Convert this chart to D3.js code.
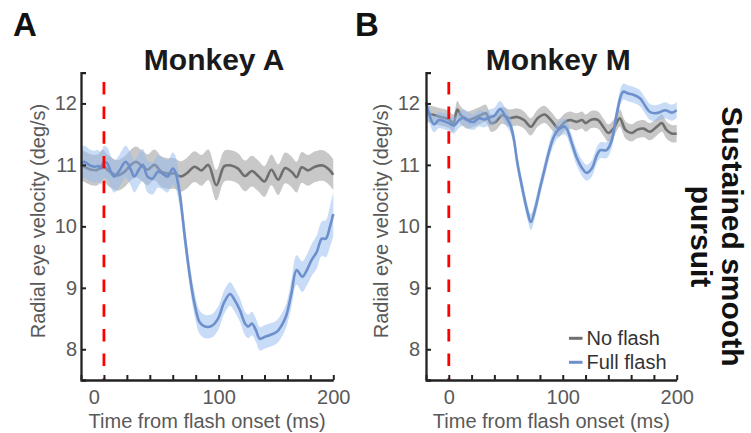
<!DOCTYPE html>
<html>
<head>
<meta charset="utf-8">
<script src="https://cdn.jsdelivr.net/npm/d3@7"></script>
<style>
  body { margin: 0; background: #fff; }
  svg { display: block; font-family: "Liberation Sans", Arial, sans-serif; }
</style>
</head>
<body>
<svg id="chart" width="751" height="433"></svg>
<script>
// ---- data ----
const xDomain = [-20, 200];
const yDomain = [7.5, 12.5];
const xTicks = [-20, 0, 20, 40, 60, 80, 100, 120, 140, 160, 180, 200];
const xTickLabels = [0, 100, 200];
const yTicks = [8, 9, 10, 11, 12];
const onsetTime = 0;
const onsetTop = 12.35;

// Monkey A, no flash
const tNoA = [-20, -17, -11, -5.5, -1, 3, 7.5, 12, 18, 23.5, 28, 34, 38, 44, 50, 55.5, 61.5, 67, 72, 79, 85, 91, 98, 105, 111, 117, 123, 129, 134.5, 140, 146, 152, 158, 164, 168, 172.5, 178, 184, 191, 196, 200];
const noFlashA = [11.00, 10.97, 10.92, 10.92, 11.00, 10.92, 10.86, 10.83, 10.89, 11.00, 11.05, 10.97, 10.92, 11.00, 10.89, 10.86, 10.86, 10.81, 10.86, 10.97, 10.91, 11.00, 10.67, 10.98, 10.99, 10.94, 10.82, 10.90, 10.82, 10.73, 10.92, 10.76, 10.95, 10.88, 10.80, 10.96, 10.91, 10.97, 10.99, 10.93, 10.84];
const semNoA = 0.25;

// Monkey A, full flash
const tFullA = [-20, -17, -13, -8, -5, -2.5, 0, 3, 6, 9, 13, 19, 23.5, 26.5, 31, 34, 38, 42.5, 47, 51, 55.5, 60, 62, 66, 70.5, 75, 79, 83.5, 88, 94, 99.5, 105, 110, 114, 118.5, 123, 126, 129, 132.5, 136, 140, 146, 150.5, 155, 159, 163.5, 168, 173, 177, 181, 185.5, 190, 193.5, 197, 200];
const fullFlashA = [11.02, 11.05, 11.00, 10.97, 10.98, 10.94, 11.05, 11.02, 10.89, 10.81, 10.89, 11.05, 10.92, 10.81, 10.94, 11.00, 10.81, 10.78, 10.89, 10.86, 10.81, 10.94, 10.90, 10.54, 9.83, 9.18, 8.74, 8.44, 8.37, 8.38, 8.50, 8.77, 8.90, 8.80, 8.64, 8.42, 8.37, 8.42, 8.31, 8.17, 8.20, 8.24, 8.28, 8.39, 8.55, 8.91, 9.29, 9.18, 9.29, 9.45, 9.58, 9.80, 9.80, 9.99, 10.20];
const semFullA = [0.26, 0.26, 0.26, 0.26, 0.26, 0.26, 0.26, 0.26, 0.26, 0.26, 0.26, 0.26, 0.26, 0.26, 0.26, 0.26, 0.26, 0.26, 0.26, 0.26, 0.26, 0.26, 0.26, 0.22, 0.20, 0.19, 0.19, 0.19, 0.19, 0.19, 0.19, 0.19, 0.19, 0.19, 0.19, 0.19, 0.19, 0.19, 0.19, 0.19, 0.19, 0.19, 0.19, 0.19, 0.19, 0.22, 0.24, 0.25, 0.25, 0.26, 0.27, 0.28, 0.30, 0.33, 0.36];

// Monkey M, no flash
const tNoM = [-20, -13, -7, 0, 4, 7.5, 10.5, 16, 22, 28, 32.5, 37, 41, 47, 53, 60, 66, 72, 78, 84, 90, 96, 102, 106.5, 112, 117, 120, 125.5, 131, 135.5, 140, 144.5, 150, 155, 160.5, 165, 171, 176.5, 182.5, 187, 191, 195.5, 200];
const noFlashM = [11.84, 11.81, 11.78, 11.74, 11.68, 11.90, 11.81, 11.73, 11.76, 11.81, 11.84, 11.68, 11.70, 11.81, 11.76, 11.78, 11.73, 11.62, 11.76, 11.82, 11.72, 11.60, 11.70, 11.73, 11.70, 11.73, 11.68, 11.74, 11.73, 11.62, 11.52, 11.59, 11.76, 11.57, 11.52, 11.57, 11.59, 11.54, 11.62, 11.68, 11.57, 11.51, 11.51];
const semNoM = 0.14;

// Monkey M, full flash
const tFullM = [-20, -17, -13, -8.5, -4, 0, 4.5, 9, 13.5, 18, 22, 26.5, 31, 35.5, 40, 45, 50, 54, 57, 60, 64.5, 69, 72, 76, 80, 84, 88, 92, 96, 102, 108, 112, 118, 121, 125.5, 130, 133, 138.5, 143, 147.5, 153, 157.5, 162, 168, 172, 176.5, 181, 185.5, 190, 195.5, 200];
const fullFlashM = [12.02, 11.81, 11.66, 11.73, 11.71, 11.68, 11.64, 11.73, 11.77, 11.71, 11.70, 11.76, 11.74, 11.77, 11.80, 11.91, 11.78, 11.65, 11.43, 11.05, 10.62, 10.24, 10.07, 10.30, 10.62, 10.92, 11.22, 11.45, 11.57, 11.62, 11.35, 11.13, 10.92, 10.87, 10.94, 11.16, 11.24, 11.24, 11.40, 11.84, 12.19, 12.16, 12.14, 12.08, 11.97, 11.86, 11.84, 11.86, 11.89, 11.85, 11.89];
const semFullM = 0.13;

const legendLabels = ["No flash", "Full flash"];

// ---- drawing ----
const grayLine = "#6f6f6f", grayBand = "#c8c8c8";
const blueLine = "#6d8fcc", blueBand = "rgb(145,185,239)";
const textGray = "#595959", axisColor = "#222";

const svg = d3.select("#chart");
const plotTop = 72.7, plotBottom = 380;

const panels = [
    { letter: "A", letterX: 13, title: "Monkey A", left: 81, right: 333.3, yLabelX: 45, tickPad: 4, zeroShift: -10,
      series: [
          { t: tNoA, v: noFlashA, sem: semNoA, line: grayLine, band: grayBand, bandOpacity: 1 },
          { t: tFullA, v: fullFlashA, sem: semFullA, line: blueLine, band: blueBand, bandOpacity: 0.5 }
      ] },
    { letter: "B", letterX: 355, title: "Monkey M", left: 426, right: 676.7, yLabelX: 387.5, tickPad: 6, zeroShift: 0, legend: true,
      series: [
          { t: tNoM, v: noFlashM, sem: semNoM, line: grayLine, band: grayBand, bandOpacity: 1 },
          { t: tFullM, v: fullFlashM, sem: semFullM, line: blueLine, band: blueBand, bandOpacity: 0.5 }
      ] }
];

panels.forEach(p => {
    const x = d3.scaleLinear().domain(xDomain).range([p.left, p.right]);
    const y = d3.scaleLinear().domain(yDomain).range([plotBottom, plotTop]);
    const g = svg.append("g");

    p.series.forEach(s => {
        const pts = s.t.map((t, i) => ({
            t, v: s.v[i],
            e: Array.isArray(s.sem) ? s.sem[i] : s.sem
        }));
        const area = d3.area()
            .x(d => x(d.t))
            .y0(d => y(d.v - d.e))
            .y1(d => y(d.v + d.e))
            .curve(d3.curveCatmullRom.alpha(0.5));
        const line = d3.line()
            .x(d => x(d.t))
            .y(d => y(d.v))
            .curve(d3.curveCatmullRom.alpha(0.5));
        g.append("path").datum(pts)
            .attr("d", area)
            .attr("fill", s.band)
            .attr("fill-opacity", s.bandOpacity);
        g.append("path").datum(pts)
            .attr("d", line)
            .attr("fill", "none")
            .attr("stroke", s.line)
            .attr("stroke-width", 2.6)
            .attr("stroke-linejoin", "round");
    });

    // flash onset
    g.append("line")
        .attr("x1", x(onsetTime)).attr("x2", x(onsetTime))
        .attr("y1", y(onsetTop)).attr("y2", y(yDomain[0]))
        .attr("stroke", "#ff0000")
        .attr("stroke-width", 2.8)
        .attr("stroke-dasharray", "12.5,12.2");

    const xAxis = g.append("g")
        .attr("transform", `translate(0,${plotBottom})`)
        .call(d3.axisBottom(x).tickValues(xTicks).tickSize(-5).tickSizeOuter(0).tickPadding(10)
            .tickFormat(d => xTickLabels.includes(d) ? d : ""));
    xAxis.selectAll("text").filter(d => d === 0).attr("dx", p.zeroShift);

    const yAxis = g.append("g")
        .attr("transform", `translate(${p.left},0)`)
        .call(d3.axisLeft(y).tickValues(yTicks).tickSize(-5).tickSizeOuter(-5).tickPadding(p.tickPad)
            .tickFormat(d3.format("d")));

    [xAxis, yAxis].forEach(a => {
        a.select(".domain").attr("stroke", axisColor).attr("stroke-width", 2.3);
        a.selectAll(".tick line").attr("stroke", axisColor).attr("stroke-width", 2);
        a.selectAll("text").attr("fill", textGray).style("font-size", "20px")
            .style("font-family", "'Liberation Sans', Arial, sans-serif");
    });

    // labels
    const cx = (p.left + p.right) / 2;
    svg.append("text")
        .attr("x", cx).attr("y", 427.5)
        .attr("text-anchor", "middle")
        .attr("fill", textGray).style("font-size", "20px")
        .text("Time from flash onset (ms)");
    svg.append("text")
        .attr("transform", `translate(${p.yLabelX},221) rotate(-90)`)
        .attr("text-anchor", "middle")
        .attr("fill", textGray).style("font-size", "20px")
        .text("Radial eye velocity (deg/s)");
    svg.append("text")
        .attr("x", cx + 7).attr("y", 70)
        .attr("text-anchor", "middle")
        .attr("fill", "#1a1a1a").style("font-size", "30px").style("font-weight", "bold")
        .text(p.title);
    svg.append("text")
        .attr("x", p.letterX).attr("y", 36)
        .attr("fill", "#111").style("font-size", "33px").style("font-weight", "bold")
        .text(p.letter);

    if (p.legend) {
        const leg = svg.append("g").attr("transform", "translate(569,338.3)");
        legendLabels.forEach((lab, i) => {
            const row = leg.append("g").attr("transform", `translate(0,${i * 24})`);
            row.append("line")
                .attr("x1", 0).attr("x2", 13.5)
                .attr("stroke", p.series[i].line).attr("stroke-width", 3);
            row.append("text")
                .attr("x", 17.5).attr("y", 6.8)
                .attr("fill", "#333").style("font-size", "20px")
                .text(lab);
        });
    }
});

// row label on the right
const side = svg.append("text")
    .attr("transform", "translate(722,236.5) rotate(90)")
    .attr("text-anchor", "middle")
    .attr("fill", "#111").style("font-size", "30px").style("font-weight", "bold");
side.append("tspan").attr("x", 0).attr("y", 0).text("Sustained smooth");
side.append("tspan").attr("x", 0).attr("y", 31).text("pursuit");
</script>
</body>
</html>
